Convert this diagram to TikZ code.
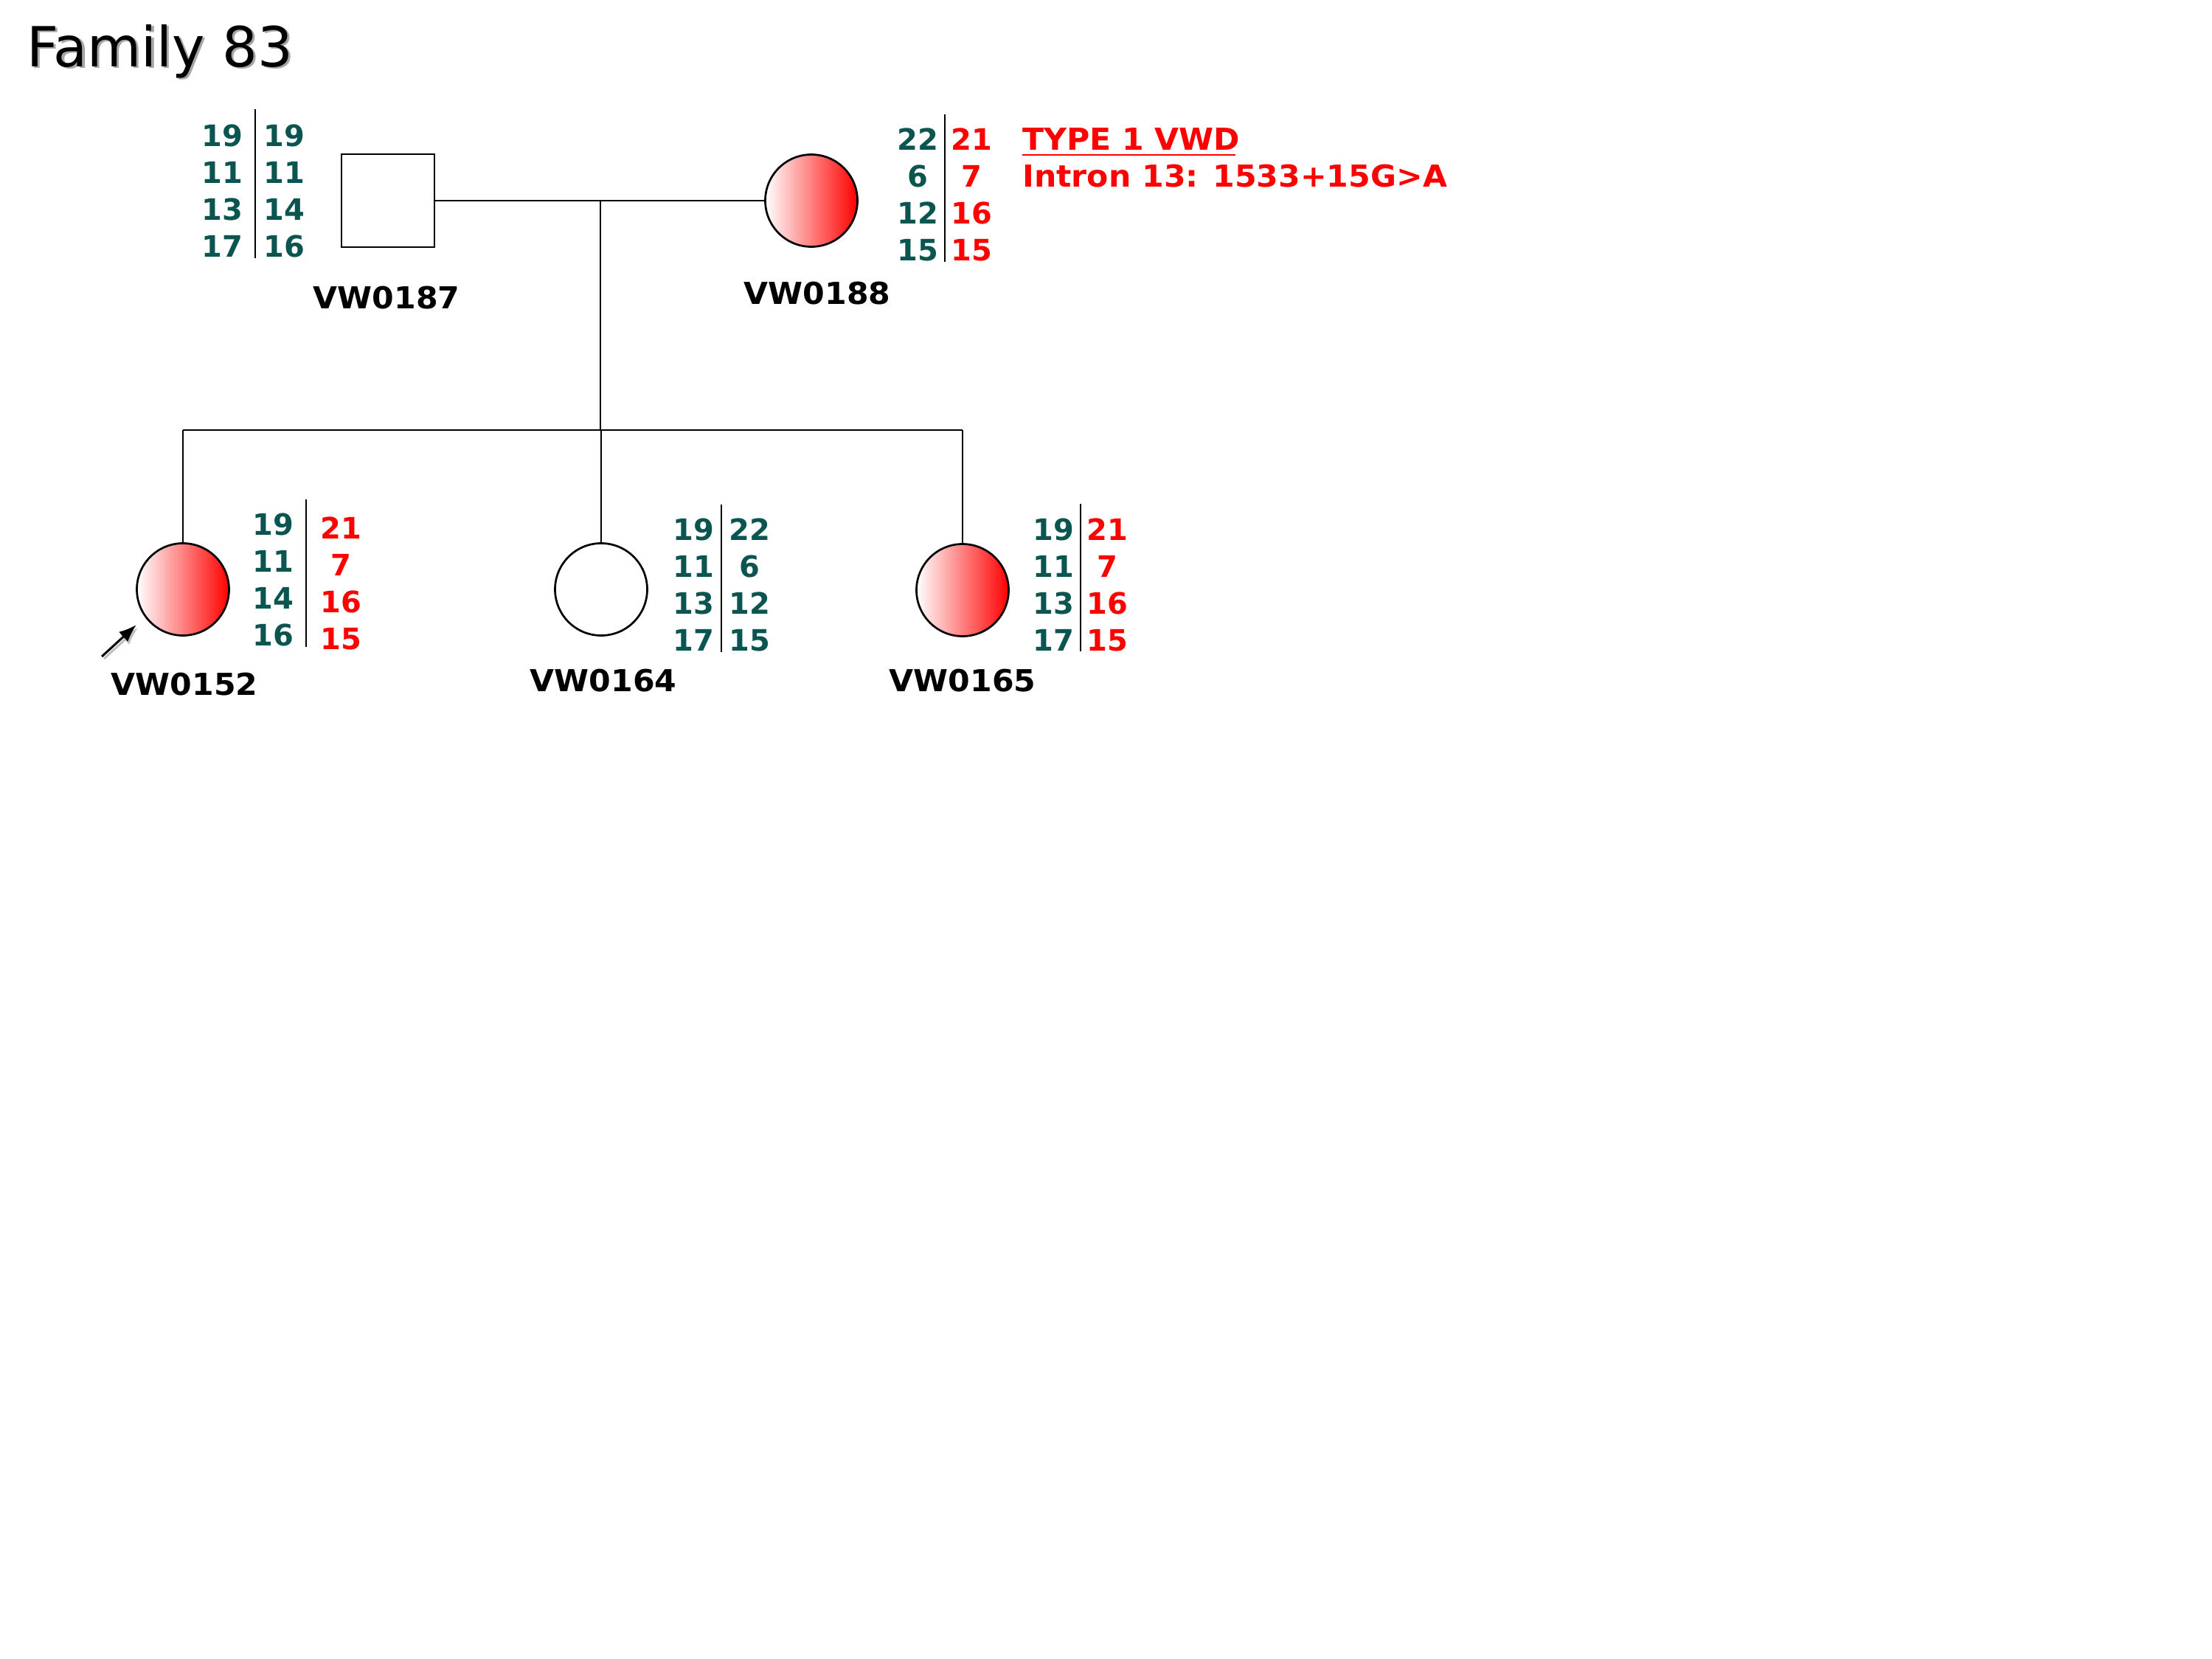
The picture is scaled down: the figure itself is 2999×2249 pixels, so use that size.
\documentclass[tikz,border=0pt]{standalone}
\usepackage{fontspec}
\setmainfont{DejaVu Sans}
\newfontfamily\widefont[FakeStretch=1.04]{DejaVu Sans}
\usetikzlibrary{arrows.meta}
\definecolor{teal}{RGB}{10,85,80}
\definecolor{vred}{RGB}{255,0,0}
\begin{document}
\begin{tikzpicture}[x=1pt,y=-1pt,
  ln/.style={line width=2.7pt, black},
  male/.style={draw, line width=2.7pt, rectangle, minimum size=126pt, inner sep=0pt},
  fem/.style={draw, line width=2.7pt, circle, minimum size=125pt, inner sep=0pt},
  aff/.style={fem, left color=white, right color=vred},
  gt/.style={anchor=base, inner sep=0pt, font=\fontsize{40}{48}\selectfont\bfseries},
  gtt/.style={gt, text=teal},
  gtr/.style={gt, text=vred},
  idl/.style={anchor=base, inner sep=0pt, font=\widefont\fontsize{41}{49}\selectfont\bfseries},
  dtext/.style={anchor=base west, inner sep=0pt, text=vred, font=\widefont\fontsize{41}{49}\selectfont\bfseries},
  div/.style={line width=2.5pt, black}]
\useasboundingbox (0,0) rectangle (2999,2249);
% title
\node[anchor=base west, inner sep=0pt, text=black!35, font=\fontsize{75}{90}\selectfont] (titlesh) at (39.5,92.5) {Family 83};
\node[anchor=base west, inner sep=0pt, font=\fontsize{75}{90}\selectfont] (title) at (36,90) {Family 83};
% parents
\node[male] (f) at (526,272) {};
\node[aff] (m) at (1100,272) {};
\coordinate (mid) at (814,272);
\coordinate (sibtop) at (814,583);
\coordinate (sl) at (248,583);
\coordinate (sr) at (1305,583);
\coordinate (s2) at (815,583);
\draw[ln] (f.east) -- (m.west);
\draw[ln] (mid) -- (sibtop);
\draw[ln] (sl) -- (sr);
% children
\node[aff] (c1) at (248,799) {};
\node[fem] (c2) at (815,799) {};
\node[aff] (c3) at (1305,800) {};
\draw[ln] (sl) -- (c1.north);
\draw[ln] (s2) -- (c2.north);
\draw[ln] (sr) -- (c3.north);
% proband arrow
\coordinate (arrtailsh) at (141,893);
\coordinate (arrtipsh) at (187,851);
\coordinate (arrtail) at (138,890);
\coordinate (arrtip) at (185,847);
\draw[line width=3pt, black!25, -{Latex[length=24pt,width=18pt]}] (arrtailsh) -- (arrtipsh);
\draw[line width=3pt, black, -{Latex[length=24pt,width=18pt]}] (arrtail) -- (arrtip);
% labels
\node[idl] (lf) at (524,418) {VW0187};
\node[idl] (lm) at (1108,412) {VW0188};
\node[idl] (l1) at (250,942) {VW0152};
\node[idl] (l2) at (818,937) {VW0164};
\node[idl] (l3) at (1305,937) {VW0165};
% father genotype
\coordinate (fdt) at (346,148); \coordinate (fdb) at (346,350);
\draw[div] (fdt) -- (fdb);
\foreach \a/\b [count=\k] in {19/19,11/11,13/14,17/16} {
  \node[gtt] (fa\k) at (301,148+50*\k) {\a};
  \node[gtt] (fb\k) at (385,148+50*\k) {\b};
}
% mother genotype
\coordinate (mdt) at (1281,155); \coordinate (mdb) at (1281,355);
\draw[div] (mdt) -- (mdb);
\foreach \a/\b [count=\k] in {22/21,6/7,12/16,15/15} {
  \node[gtt] (ma\k) at (1244,153+50*\k) {\a};
  \node[gtr] (mb\k) at (1317,153+50*\k) {\b};
}
% disease text
\node[dtext] (type) at (1386,203) {TYPE 1 VWD};
\coordinate (ul) at (1386,210); \coordinate (ur) at (1675,210);
\draw[line width=2.5pt, vred] (ul) -- (ur);
\node[dtext] (intron) at (1386,253) {Intron 13: 1533+15G>A};
% child 1 genotype
\coordinate (c1dt) at (415,677); \coordinate (c1db) at (415,877);
\draw[div] (c1dt) -- (c1db);
\foreach \a/\b [count=\k] in {19/21,11/7,14/16,16/15} {
  \node[gtt] (c1a\k) at (370,675+50*\k) {\a};
  \node[gtr] (c1b\k) at (462,680+50*\k) {\b};
}
% child 2 genotype
\coordinate (c2dt) at (978,684); \coordinate (c2db) at (978,884);
\draw[div] (c2dt) -- (c2db);
\foreach \a/\b [count=\k] in {19/22,11/6,13/12,17/15} {
  \node[gtt] (c2a\k) at (940,682+50*\k) {\a};
  \node[gtt] (c2b\k) at (1016,682+50*\k) {\b};
}
% child 3 genotype
\coordinate (c3dt) at (1465,683); \coordinate (c3db) at (1465,883);
\draw[div] (c3dt) -- (c3db);
\foreach \a/\b [count=\k] in {19/21,11/7,13/16,17/15} {
  \node[gtt] (c3a\k) at (1428,682+50*\k) {\a};
  \node[gtr] (c3b\k) at (1501,682+50*\k) {\b};
}
\end{tikzpicture}
\end{document}
